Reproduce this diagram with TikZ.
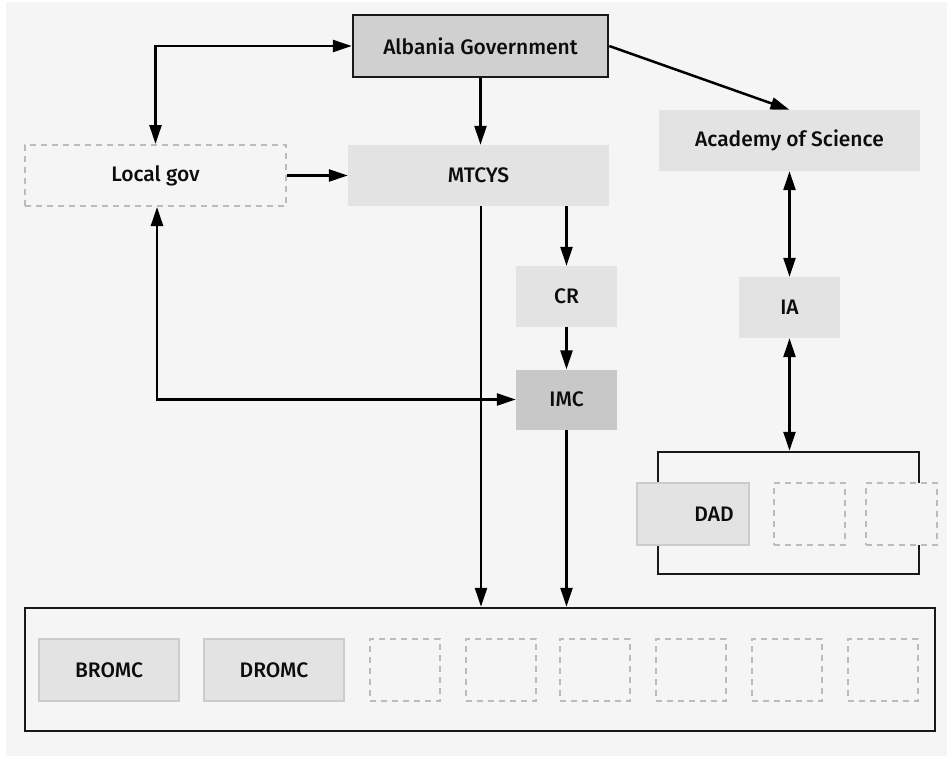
\documentclass[tikz,border=0pt]{standalone}
\usepackage{fontspec}
\setmainfont{Fira Sans Medium}
\usetikzlibrary{arrows.meta,calc}
\definecolor{bgc}{HTML}{F5F5F5}
\definecolor{boxc}{HTML}{E3E3E3}
\definecolor{govc}{HTML}{D0D0D0}
\definecolor{imcc}{HTML}{C8C8C8}
\definecolor{dashc}{HTML}{BBBBBB}
\definecolor{edgec}{HTML}{CCCCCC}
\tikzset{
  every node/.style={inner sep=0pt,font=\fontsize{21}{24}\selectfont,text=black!95},
  plainbox/.style={fill=boxc,draw=none},
  govbox/.style={fill=govc,draw=black!90,line width=2.5pt},
  imcbox/.style={fill=imcc,draw=none},
  dashbox/.style={draw=dashc,line width=2pt,dash pattern=on 6pt off 5pt,fill=bgc},
  edgebox/.style={fill=boxc,draw=edgec,line width=2pt},
  framebox/.style={draw=black!90,line width=2.5pt},
  arr/.style={line width=2.5pt,draw=black,-{Triangle[length=19pt,width=12pt]}},
  darr/.style={line width=2.5pt,draw=black,{Triangle[length=19pt,width=12pt]}-{Triangle[length=19pt,width=12pt]}},
}
\begin{document}
\begin{tikzpicture}[x=1pt,y=-1pt]
\useasboundingbox (0,0) rectangle (947,756);
\fill[white] (0,0) rectangle (947,756);
\fill[bgc] (6,2) rectangle (947,756);
% frames
\node[framebox,minimum width=910pt,minimum height=123pt] (bot) at (480,669.5) {};
\node[framebox,minimum width=261pt,minimum height=122pt] (dadg) at (788.5,513) {};
% nodes
\node[govbox,minimum width=255pt,minimum height=62pt] (ag) at (480.5,46) {Albania Government};
\node[dashbox,minimum width=261pt,minimum height=61pt] (lg) at (155.5,175.5) {Local gov};
\node[plainbox,minimum width=261pt,minimum height=61pt] (mt) at (478.5,175.5) {MTCYS};
\node[plainbox,minimum width=261pt,minimum height=61pt] (ac) at (789.5,140.5) {Academy of Science};
\node[plainbox,minimum width=101pt,minimum height=61pt] (cr) at (566.5,296.5) {CR};
\node[imcbox,minimum width=101pt,minimum height=60pt] (imc) at (566.5,399.5) {IMC};
\node[plainbox,minimum width=101pt,minimum height=61pt] (ia) at (789.5,307.5) {IA};
\node[edgebox,minimum width=112pt,minimum height=62pt] (dad) at (693,514) {};
\node at (714,514) {DAD};
\node[dashbox,minimum width=71pt,minimum height=62pt] (dg2) at (809,514) {};
\node[dashbox,minimum width=71pt,minimum height=62pt] (dg3) at (901,514) {};
\node[edgebox,minimum width=140pt,minimum height=62pt] (bromc) at (109,670) {BROMC};
\node[edgebox,minimum width=140pt,minimum height=62pt] (dromc) at (274,670) {DROMC};
\foreach \i/\x in {1/405,2/500.5,3/595,4/691,5/786.5,6/882.5}{
  \node[dashbox,minimum width=70pt,minimum height=62pt] (e\i) at (\x,670) {};
}
% connectors
\draw[darr] (lg.north) |- (ag.west);
\draw[arr] (ag.south) -- (ag.south |- mt.north);
\draw[arr] (ag.east) -- (ac.north);
\draw[arr] (lg.east) -- (mt.west);
\draw[arr] ([xshift=2.5pt]mt.south) -- ([xshift=2.5pt]mt.south |- bot.north);
\draw[arr] (cr.north |- mt.south) -- (cr.north);
\draw[arr] (cr.south) -- (imc.north);
\draw[arr] (imc.south) -- (imc.south |- bot.north);
\draw[darr] ([xshift=1.5pt]lg.south) |- (imc.west);
\draw[darr] (ac.south -| ia.north) -- (ia.north);
\draw[darr] (ia.south) -- (ia.south |- dadg.north);
\end{tikzpicture}
\end{document}
